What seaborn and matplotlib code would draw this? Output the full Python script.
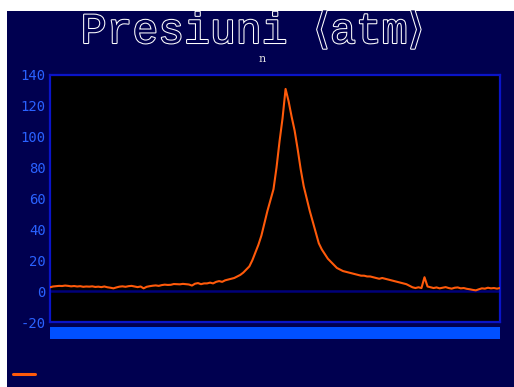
import numpy as np
import pandas as pd
import matplotlib
matplotlib.use("Agg")
import matplotlib.pyplot as plt
import matplotlib.patheffects as pe
from matplotlib.patches import Rectangle
from matplotlib.lines import Line2D
import seaborn as sns

# Pressure readings (atm), one per sample
pressure = [
    2.5, 3.0, 3.2, 3.4, 3.3, 3.6, 3.4, 3.1, 3.3, 3.0,
    3.2, 2.8, 3.0, 2.9, 3.1, 2.7, 2.9, 2.6, 3.0, 2.5,
    2.2, 1.8, 2.4, 2.9, 3.1, 2.8, 3.2, 3.4, 3.0, 2.6,
    3.0, 1.8, 2.8, 3.2, 3.5, 3.7, 3.4, 3.9, 4.2, 4.0,
    4.1, 4.6, 4.5, 4.4, 4.7, 4.5, 4.3, 3.6, 4.8, 5.2,
    4.5, 5.0, 5.0, 5.5, 5.0, 6.0, 6.5, 6.0, 7.0, 7.5,
    8.0, 8.5, 9.5, 10.5, 12.0, 14.0, 16.0, 20.0, 25.0, 30.0,
    36.0, 44.0, 52.0, 59.0, 66.0, 80.0, 97.0, 112.0, 131.0, 123.0,
    113.0, 104.0, 92.0, 79.0, 68.0, 60.0, 52.0, 45.0, 38.0, 31.0,
    27.0, 24.0, 21.0, 19.0, 17.0, 15.0, 14.0, 13.0, 12.5, 12.0,
    11.5, 11.0, 10.5, 10.0, 10.0, 9.5, 9.5, 9.0, 8.5, 8.0,
    8.5, 8.0, 7.5, 7.0, 6.5, 6.0, 5.5, 5.0, 4.5, 3.5,
    2.5, 2.0, 2.5, 2.0, 9.0, 3.0, 2.5, 2.0, 2.4, 1.8,
    2.2, 2.6, 2.0, 1.6, 2.2, 2.4, 1.8, 2.0, 1.5, 1.2,
    0.8, 0.5, 1.2, 1.8, 1.6, 2.2, 1.8, 2.0, 1.6, 2.0,
]
sample = list(range(len(pressure)))

title = "Presiuni \u27e8atm\u27e9"
subtitle = "n"
y_ticks = [-20, 0, 20, 40, 60, 80, 100, 120, 140]

navy = "#000050"
frame_blue = "#0a14c8"
label_blue = "#2a62ff"
band_blue = "#0050ff"
orange = "#ff5a0a"

df = pd.DataFrame({"sample": sample, "pressure": pressure})

sns.set_style("dark")
fig = plt.figure(figsize=(5.14, 3.87), dpi=100, facecolor="white")

# navy panel behind everything
fig.patches.append(Rectangle((7 / 514, 0), 1, (387 - 11) / 387,
                             transform=fig.transFigure, facecolor=navy,
                             edgecolor="none", zorder=-10))

ax = fig.add_axes([50 / 514, (387 - 322) / 387, 450 / 514, 247 / 387])
ax.set_zorder(1)
ax.set_facecolor("black")

ax.axhline(0, color="#00007a", lw=1.8, zorder=1)
sns.lineplot(data=df, x="sample", y="pressure", ax=ax, color=orange,
             lw=1.5, zorder=3, legend=False)

ax.set_xlim(0, len(pressure) - 1)
ax.set_ylim(-20, 140)
ax.set_yticks(y_ticks)
ax.set_yticklabels([str(v) for v in y_ticks], family="DejaVu Sans Mono",
                   fontsize=10, color=label_blue)
ax.set_xticks([])
ax.tick_params(axis="y", length=0, pad=3)
ax.set_xlabel("")
ax.set_ylabel("")
ax.grid(False)
for s in ax.spines.values():
    s.set_visible(True)
    s.set_color(frame_blue)
    s.set_linewidth(1.6)

# category strip under the axis
ax.add_patch(Rectangle((0, -0.022), 1, -0.045, transform=ax.transAxes,
                       facecolor=band_blue, edgecolor="none", clip_on=False))

fig.text(252 / 514, 1 - 43 / 387, title, ha="center", va="baseline",
         family=["Liberation Mono", "DejaVu Sans"],
         fontsize=31, color=navy,
         path_effects=[pe.Stroke(linewidth=1.5, foreground="white"), pe.Normal()])
fig.text(262 / 514, 1 - 59 / 387, subtitle, ha="center", va="center",
         family="DejaVu Serif", fontsize=8, color="#e0e0e0")

handle = Line2D([], [], color=orange, lw=2.2)
fig.legend(handles=[handle], labels=[" "], loc="lower left",
           bbox_to_anchor=(0.005, -0.008), frameon=False, handlelength=2.0,
           fontsize=8)

fig.savefig("out.png", dpi=100, facecolor=fig.get_facecolor())
